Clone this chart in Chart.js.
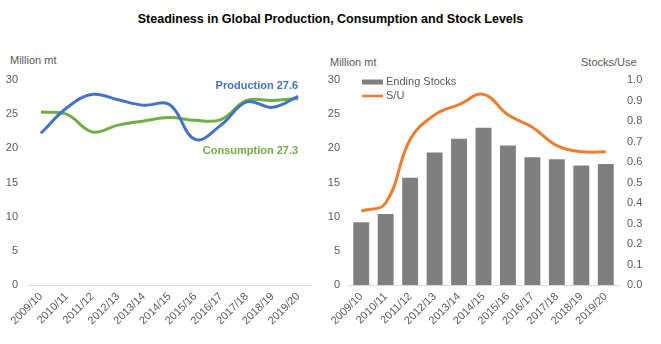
<!DOCTYPE html>
<html lang="en">
<head>
    <meta charset="UTF-8">
    <title>Steadiness in Global Production, Consumption and Stock Levels</title>
    <script src="https://cdn.jsdelivr.net/npm/chart.js@4.4.8/dist/chart.umd.min.js"></script>
    <style>
        body { margin: 0; background: #fff; font-family: "Liberation Sans", Arial, sans-serif; }
        #page { position: relative; width: 661px; height: 344px; overflow: hidden; }
        .txt { position: absolute; font-size: 11px; color: #595959; white-space: nowrap; }
        #title { position: absolute; left: 0; width: 661px; top: 12px; text-align: center; font-weight: bold; font-size: 12.5px; color: #000; }
        #leftBox { position: absolute; left: 0; top: 40px; width: 330px; height: 304px; }
        #rightBox { position: absolute; left: 326px; top: 40px; width: 335px; height: 304px; }
    </style>
</head>
<body>
<div id="page">
    <div id="title">Steadiness in Global Production, Consumption and Stock Levels</div>
    <div class="txt" style="left:10px; top:54px;">Million mt</div>
    <div class="txt" style="left:330px; top:56px;">Million mt</div>
    <div class="txt" style="left:581px; top:56px;">Stocks/Use</div>
    <div id="leftBox"><canvas id="leftChart"></canvas></div>
    <div id="rightBox"><canvas id="rightChart"></canvas></div>
</div>

<script>
    const years = ['2009/10', '2010/11', '2011/12', '2012/13', '2013/14', '2014/15',
                   '2015/16', '2016/17', '2017/18', '2018/19', '2019/20'];
    const production = [22.2, 25.9, 27.9, 27.1, 26.3, 26.4, 21.3, 23.4, 26.8, 26.0, 27.6];
    const consumption = [25.3, 25.0, 22.4, 23.4, 24.0, 24.5, 24.1, 24.2, 27.0, 27.0, 27.3];
    const endingStocks = [9.2, 10.4, 15.7, 19.4, 21.4, 23.0, 20.4, 18.7, 18.4, 17.5, 17.7];
    const stocksUse = [0.36, 0.40, 0.71, 0.83, 0.88, 0.93, 0.83, 0.77, 0.68, 0.65, 0.65];

    const blue = '#4472C4';
    const green = '#70AD47';
    const orange = '#ED7D31';
    const gray = '#7F7F7F';
    const textGray = '#595959';
    Chart.defaults.font.family = '"Liberation Sans", Arial, sans-serif';
    Chart.defaults.font.size = 11;
    Chart.defaults.color = textGray;

    // end-of-line labels for the left chart
    const endLabels = {
        id: 'endLabels',
        afterDatasetsDraw(chart) {
            const ctx = chart.ctx;
            const xs = chart.scales.x, ys = chart.scales.y;
            const last = years.length - 1;
            const x = xs.getPixelForValue(last);
            ctx.save();
            ctx.font = 'bold 11px "Liberation Sans", Arial, sans-serif';
            ctx.textAlign = 'right';
            ctx.textBaseline = 'middle';
            ctx.fillStyle = blue;
            ctx.fillText('Production ' + production[last], x, ys.getPixelForValue(production[last]) - 10);
            ctx.fillStyle = green;
            ctx.fillText('Consumption ' + consumption[last], x, ys.getPixelForValue(consumption[last]) + 53);
            ctx.restore();
        }
    };

    // legend inside the plot area, top left
    const innerLegend = {
        id: 'innerLegend',
        afterDraw(chart) {
            const ctx = chart.ctx;
            const a = chart.chartArea;
            const x = a.left + 13;
            const y = a.top + 2;
            ctx.save();
            ctx.fillStyle = gray;
            ctx.fillRect(x, y - 2.5, 21, 5);
            ctx.strokeStyle = orange;
            ctx.lineWidth = 2.5;
            ctx.beginPath();
            ctx.moveTo(x, y + 14);
            ctx.lineTo(x + 21, y + 14);
            ctx.stroke();
            ctx.fillStyle = textGray;
            ctx.font = '11px "Liberation Sans", Arial, sans-serif';
            ctx.textBaseline = 'middle';
            ctx.fillText('Ending Stocks', x + 24, y);
            ctx.fillText('S/U', x + 24, y + 14);
            ctx.restore();
        }
    };

    const xAxis = {
        offset: true,
        grid: { display: false, drawTicks: false },
        border: { color: '#d9d9d9' },
        ticks: { minRotation: 45, maxRotation: 45, padding: 5, autoSkip: false },
        afterFit(scale) { scale.height = 59; }
    };

    new Chart(document.getElementById('leftChart'), {
        type: 'line',
        data: {
            labels: years,
            datasets: [
                { label: 'Production', data: production, borderColor: blue, borderWidth: 3, tension: 0.4, pointRadius: 0 },
                { label: 'Consumption', data: consumption, borderColor: green, borderWidth: 3, tension: 0.4, pointRadius: 0 }
            ]
        },
        options: {
            responsive: true,
            maintainAspectRatio: false,
            animation: false,
            layout: { padding: { top: 40, right: 19, left: 0, bottom: 0 } },
            plugins: { legend: { display: false }, tooltip: { enabled: false } },
            scales: {
                x: xAxis,
                y: {
                    min: 0, max: 30,
                    grid: { display: false },
                    border: { display: false },
                    ticks: { stepSize: 5, padding: 2 },
                    afterFit(scale) { scale.width = 28; }
                }
            }
        },
        plugins: [endLabels]
    });

    new Chart(document.getElementById('rightChart'), {
        data: {
            labels: years,
            datasets: [
                { type: 'line', label: 'S/U', data: stocksUse, yAxisID: 'y1', borderColor: orange,
                  borderWidth: 3, tension: 0.4, pointRadius: 0 },
                { type: 'bar', label: 'Ending Stocks', data: endingStocks, yAxisID: 'y', backgroundColor: gray,
                  barPercentage: 0.65, categoryPercentage: 1 }
            ]
        },
        options: {
            responsive: true,
            maintainAspectRatio: false,
            animation: false,
            layout: { padding: { top: 40, right: 0, left: 0, bottom: 0 } },
            plugins: { legend: { display: false }, tooltip: { enabled: false } },
            scales: {
                x: xAxis,
                y: {
                    position: 'left',
                    min: 0, max: 30,
                    grid: { display: false },
                    border: { display: false },
                    ticks: { stepSize: 5, padding: 1 },
                    afterFit(scale) { scale.width = 23; }
                },
                y1: {
                    position: 'right',
                    min: 0, max: 1,
                    grid: { display: false },
                    border: { display: false },
                    ticks: { stepSize: 0.1, padding: 1, callback: v => v.toFixed(1) },
                    afterFit(scale) { scale.width = 43; }
                }
            }
        },
        plugins: [innerLegend]
    });
</script>
</body>
</html>
